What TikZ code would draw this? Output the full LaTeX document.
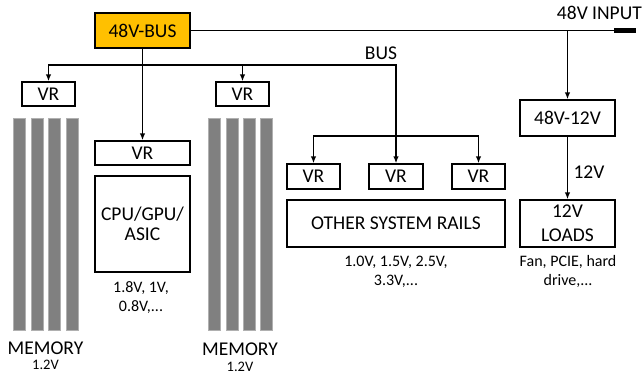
\documentclass[tikz,border=0pt]{standalone}
\usepackage{fontspec}
\setmainfont{Carlito}
\usetikzlibrary{arrows.meta}
\definecolor{busorange}{HTML}{FFC000}
\definecolor{memgray}{HTML}{808080}
\definecolor{memedge}{HTML}{B0B0B0}
\begin{document}
\begin{tikzpicture}[x=1pt,y=-1pt,
  box/.style={draw=black,line width=1.35pt,rectangle,inner sep=0pt,align=center,font=\fontsize{19.5}{21}\selectfont},
  lbl/.style={inner sep=0pt,align=center,font=\fontsize{19.5}{21}\selectfont},
  small/.style={inner sep=0pt,align=center,font=\fontsize{16}{19}\selectfont},
  conn/.style={line width=1.35pt,-{Latex[length=7pt,width=5.5pt]}},
  wire/.style={line width=1.35pt},
  membar/.style={fill=memgray,draw=memedge,line width=0.8pt}]
\useasboundingbox (0,0) rectangle (644,375);
% boxes
\node[box,fill=busorange,minimum width=95pt,minimum height=35pt] (bus) at (142.5,30.5) {48V-BUS};
\node[box,minimum width=53pt,minimum height=24pt] (vrL) at (48.5,94) {VR};
\node[box,minimum width=53pt,minimum height=24pt] (vrM) at (242.5,94) {VR};
\node[box,minimum width=95pt,minimum height=24pt] (vrC) at (142.5,153) {VR};
\node[box,minimum width=95pt,minimum height=96pt,font=\fontsize{19.5}{20}\selectfont] (cpu) at (142.5,224) {CPU/GPU/\\ASIC};
\node[box,minimum width=53pt,minimum height=25pt] (vr1) at (313.5,176.5) {VR};
\node[box,minimum width=54pt,minimum height=25pt] (vr2) at (396,176.5) {VR};
\node[box,minimum width=53pt,minimum height=25pt] (vr3) at (478.5,176.5) {VR};
\node[box,minimum width=218pt,minimum height=47pt] (other) at (396,223.5) {OTHER SYSTEM RAILS};
\node[box,minimum width=95pt,minimum height=36pt] (conv) at (567.5,118) {48V-12V};
\node[box,minimum width=95pt,minimum height=47pt,font=\fontsize{19.5}{24}\selectfont] (loads) at (567.5,223.5) {12V\\LOADS};
\node[fill=black,draw=none,minimum width=22pt,minimum height=5.5pt,inner sep=0pt] (inp) at (625,30.5) {};
% labels
\node[lbl,anchor=east] (inlbl) at (642,13) {48V INPUT};
\node[lbl] (buslbl) at (381,53) {BUS};
\node[lbl] (v12) at (589,172) {12V};
\node[small] (cpuv) at (141,297.5) {1.8V, 1V,\\0.8V,...};
\node[small] (othv) at (396,271.5) {1.0V, 1.5V, 2.5V,\\3.3V,...};
\node[small] (loadv) at (568,271.5) {Fan, PCIE, hard\\drive,...};
\node[lbl] (mem1) at (45.5,348) {MEMORY};
\node[small,font=\fontsize{14.5}{16}\selectfont] (mem1v) at (45.5,365) {1.2V};
\node[lbl] (mem2) at (240,349) {MEMORY};
\node[small,font=\fontsize{14.5}{16}\selectfont] (mem2v) at (240,367) {1.2V};
% memory bars
\foreach \x in {13,31,48.5,66,208,226,243,260.5}
  \draw[membar] (\x,118) rectangle (\x+12,330);
% connectors
\draw[wire] (bus.east) -- (inp.west);
\draw[conn] (conv.north |- bus.east) -- (conv.north);
\draw[conn] (bus.south) -- (vrC.north);
\coordinate (bl) at (142.5,65);
\coordinate (bl2) at (396,136);
\draw[conn] (bl) -| (vrL.north);
\draw[conn] (bl) -| (vrM.north);
\draw[conn] (bl) -| (vr2.north);
\draw[conn] (bl2) -| (vr1.north);
\draw[conn] (bl2) -| (vr3.north);
\draw[conn] (conv.south) -- (loads.north);
\end{tikzpicture}
\end{document}
